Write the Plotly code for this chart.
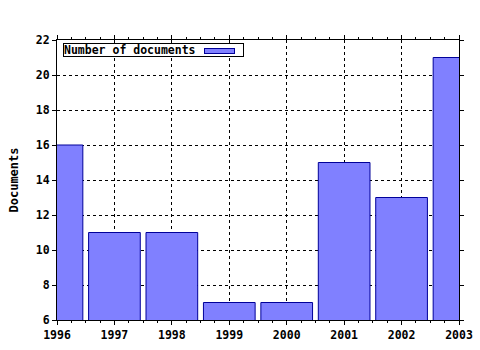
import plotly.graph_objects as go

years = [1996, 1997, 1998, 1999, 2000, 2001, 2002, 2003]
documents = [16, 11, 11, 7, 7, 15, 13, 21]
series_name = "Number of documents"
y_title = "Documents"

W, H = 480, 350
L, R, T, B = 57, 21, 40, 30
pw, ph = W - L - R, H - T - B

def px(x):
    return (x - L) / pw

def py(y):
    return 1 - (y - T) / ph

font = dict(family="DejaVu Sans Mono", size=11.5, color="black", weight="bold")

fig = go.Figure()
fig.add_trace(go.Bar(
    x=years, y=documents, width=0.9,
    marker=dict(color="#8080ff", line=dict(color="#000099", width=1)),
    name=series_name, showlegend=False,
))

fig.update_layout(
    width=W, height=H,
    margin=dict(l=L, r=R, t=T, b=B, pad=0, autoexpand=False),
    paper_bgcolor="white", plot_bgcolor="white",
    font=font,
    xaxis=dict(
        range=[1996, 2003], dtick=1, tick0=1996,
        showline=True, linecolor="black", linewidth=1, mirror="ticks",
        ticks="outside", ticklen=4, tickcolor="black",
        minor=dict(dtick=0.25, ticks="outside", ticklen=2, tickcolor="black", showgrid=False),
        showgrid=True, gridcolor="black", griddash="dot", gridwidth=1,
        tickfont=font, zeroline=False,
    ),
    yaxis=dict(
        range=[6, 22], dtick=2,
        showline=True, linecolor="black", linewidth=1, mirror="ticks",
        ticks="outside", ticklen=4, tickcolor="black",
        showgrid=True, gridcolor="black", griddash="dot", gridwidth=1,
        tickfont=font, zeroline=False,
        title=dict(text=y_title, font=dict(family="DejaVu Sans Mono", size=12, color="black", weight="bold"), standoff=14),
    ),
)

# legend box
fig.add_annotation(
    xref="paper", yref="paper", x=px(63), y=py(43),
    xanchor="left", yanchor="top",
    text=series_name, showarrow=False, align="left",
    width=179, height=12, borderpad=0,
    bordercolor="black", borderwidth=1, bgcolor="white",
    font=font,
)
# legend swatch
fig.add_annotation(
    xref="paper", yref="paper", x=px(204), y=py(47.5),
    xanchor="left", yanchor="top",
    text=" ", showarrow=False,
    width=29, height=4, borderpad=0,
    bordercolor="#000099", borderwidth=1, bgcolor="#8080ff",
    font=dict(size=2),
)

fig.write_html("out.html")
